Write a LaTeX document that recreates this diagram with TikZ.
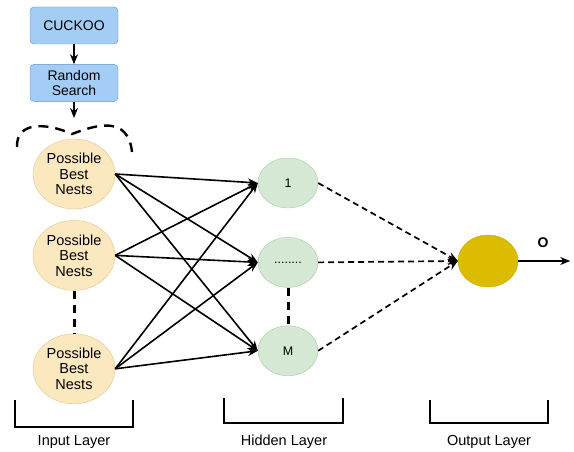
\documentclass[tikz,border=0pt]{standalone}
\usepackage{fontspec}
\setmainfont{Liberation Sans}
\usepackage{xcolor}
\usepackage{tikz}
\usetikzlibrary{positioning}
\usetikzlibrary{shapes.geometric}
\usetikzlibrary{arrows.meta}
\definecolor{boxblue}{HTML}{A4CDF5}
\definecolor{boxblueline}{HTML}{5F8FC8}
\definecolor{nestfill}{HTML}{FBE8BF}
\definecolor{nestline}{HTML}{E0C68C}
\definecolor{hidfill}{HTML}{D5E8D4}
\definecolor{hidline}{HTML}{A8C89F}
\definecolor{outfill}{HTML}{DBBC00}
\tikzset{
  searchbox/.style={draw=boxblueline, fill=boxblue, rounded corners=4pt,
    minimum width=88pt, minimum height=37pt, align=center, inner sep=1pt,
    font=\fontsize{14}{15}\selectfont},
  nest/.style={ellipse, draw=nestline, fill=nestfill, minimum width=82pt,
    minimum height=70pt, inner sep=0pt, align=center,
    font=\fontsize{14.5}{15.5}\selectfont},
  hidden/.style={ellipse, draw=hidline, fill=hidfill, minimum width=60pt,
    minimum height=50pt, inner sep=0pt, font=\fontsize{12.5}{14}\selectfont},
  outnode/.style={ellipse, draw=outfill!90!black, fill=outfill,
    minimum width=60pt, minimum height=52pt, inner sep=0pt},
  full edge/.style={-{Stealth[length=10pt,width=8pt]}, line width=1.6pt},
  dash edge/.style={-{Stealth[length=10pt,width=8pt]}, line width=1.7pt,
    dash pattern=on 6pt off 4pt},
  gap dash/.style={line width=3pt, dash pattern=on 8pt off 6pt},
  bracket/.style={line width=2.8pt},
  layer label/.style={font=\fontsize{14.5}{16}\selectfont},
}

\begin{document}
\begin{tikzpicture}[x=1pt, y=-1pt]
  \useasboundingbox (0,0) rectangle (574,452);

  % Define nodes
  \node[searchbox] (cuckoo) at (74,25.5) {CUCKOO};
  \node[searchbox, below=20pt of cuckoo] (rsearch) {Random\\Search};
  \coordinate (brace_top) at (74,118);

  \node[nest] (in_1) at (74,174) {Possible\\Best\\Nests};
  \node[nest, below=11pt of in_1] (in_2) {Possible\\Best\\Nests};
  \node[nest, below=43pt of in_2] (in_3) {Possible\\Best\\Nests};

  \node[hidden] (h_1) at (288,183) {1};
  \node[hidden, below=29pt of h_1] (h_dots) {........};
  \node[hidden, below=38pt of h_dots] (h_M) {M};

  \node[outnode] (out) at (488,261) {};
  \coordinate[right=52pt of out] (out_end);
  \node[font=\fontsize{14}{15}\selectfont\bfseries] (o_label) at (543,243) {O};

  % Connect nodes
  \draw[full edge] (cuckoo) -- (rsearch);
  \draw[full edge] (rsearch) -- (brace_top);

  \draw[line width=2.4pt, dash pattern=on 10pt off 7pt]
    (17,147) .. controls (16,122) and (45,122) .. (72,134)
    .. controls (98,124) and (128,116) .. (132,152);

  \foreach \i in {in_1, in_2, in_3}
    \foreach \j in {h_1, h_dots, h_M}
      \draw[full edge] (\i.east) -- (\j.west);

  \foreach \j in {h_1, h_dots, h_M}
    \draw[dash edge] (\j.east) -- (out.west);

  \draw[full edge] (out) -- (out_end);

  \draw[gap dash] (in_2) -- (in_3);
  \draw[gap dash] (h_dots) -- (h_M);

  % Layers
  \draw[bracket] (15,400) |- (133,427) -- (133,400);
  \draw[bracket] (224,398) |- (343,423) -- (343,398);
  \draw[bracket] (430,400) |- (548,423) -- (548,400);

  \node[layer label] (in_label) at (74,442) {Input Layer};
  \node[layer label] (hid_label) at (284,442) {Hidden Layer};
  \node[layer label] (out_label) at (489,442) {Output Layer};

\end{tikzpicture}
\end{document}
